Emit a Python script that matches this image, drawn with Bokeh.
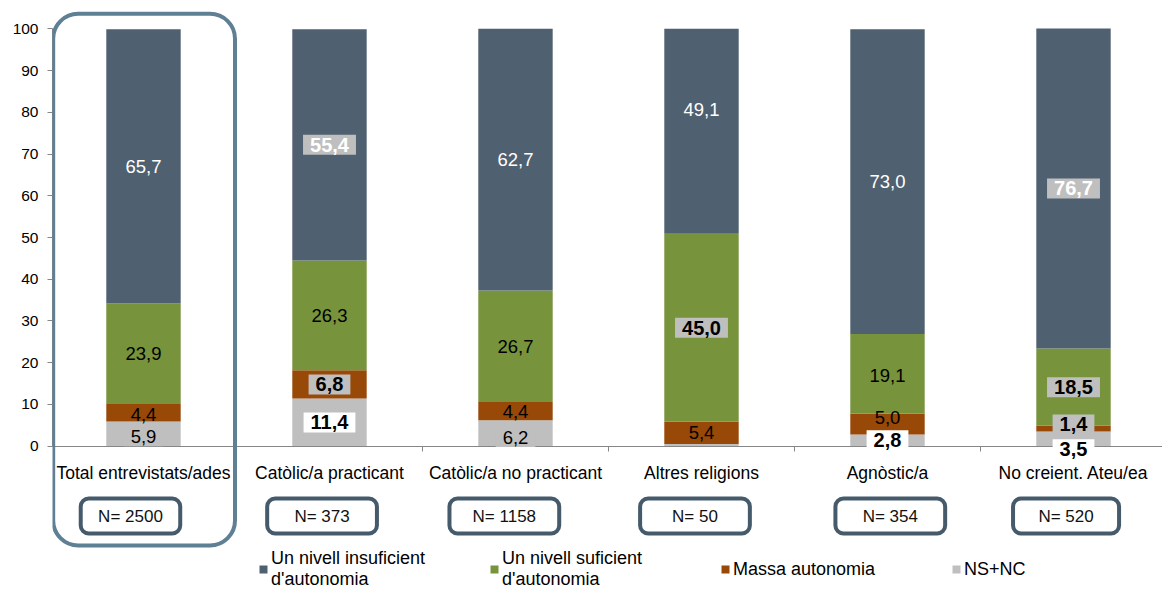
import numpy as np
from bokeh.plotting import figure
from bokeh.models import (ColumnDataSource, Range1d, FixedTicker, BoxAnnotation,
                          Legend, LegendItem)
from bokeh.core.properties import value
from bokeh.embed import file_html
from bokeh.resources import INLINE

# ---------------- data ----------------
categories = ["Total entrevistats/ades", "Catòlic/a practicant", "Catòlic/a no practicant",
              "Altres religions", "Agnòstic/a", "No creient. Ateu/ea"]
ns_nc = [5.9, 11.4, 6.2, 0.5, 2.8, 3.5]
massa = [4.4, 6.8, 4.4, 5.4, 5.0, 1.4]
suficient = [23.9, 26.3, 26.7, 45.0, 19.1, 18.5]
insuficient = [65.7, 55.4, 62.7, 49.1, 73.0, 76.7]
n_sizes = [2500, 373, 1158, 50, 354, 520]
series_names = ["NS+NC", "Massa autonomia",
                "Un nivell suficient\nd'autonomia", "Un nivell insuficient\nd'autonomia"]
y_ticks = [0, 10, 20, 30, 40, 50, 60, 70, 80, 90, 100]

# ---------------- styling / layout ----------------
FONT = "Liberation Sans"
colors = ["#BFBFBF", "#984807", "#77933C", "#4F6070"]
GRAY_BOX = "#BFBFBF"
AXIS_COL = "#868686"

# label style overrides: (category index, series index) -> (text colour, bold, background)
label_style = {
    (0, 0): ("black", False, GRAY_BOX),
    (1, 0): ("black", True, "white"),
    (1, 1): ("black", True, GRAY_BOX),
    (1, 3): ("white", True, GRAY_BOX),
    (2, 0): ("black", False, GRAY_BOX),
    (3, 2): ("black", True, GRAY_BOX),
    (4, 0): ("black", True, "white"),
    (5, 0): ("black", True, "white"),
    (5, 1): ("black", True, GRAY_BOX),
    (5, 2): ("black", True, GRAY_BOX),
    (5, 3): ("white", True, GRAY_BOX),
}
label_nudge = {(0, 0): -0.7, (0, 1): -0.6, (2, 0): -1.0, (3, 3): 5.3,
               (4, 1): 1.5, (5, 0): -2.5, (5, 1): 1.0, (4, 2): -0.5}
nbox_offset = [-0.07, -0.04, -0.06, -0.035, 0.015, -0.04]
nbox_width = [0.535, 0.59, 0.59, 0.59, 0.59, 0.57]

x = [i + 1 for i in range(len(categories))]

p = figure(width=1162, height=591,
           x_range=Range1d(0.5108, 6.4785), y_range=Range1d(-34.82, 106.79),
           output_backend="svg", toolbar_location=None,
           min_border_left=52, min_border_right=0, min_border_top=0, min_border_bottom=0)
p.outline_line_color = None
p.xgrid.visible = False
p.ygrid.visible = False
p.background_fill_color = "white"

source = ColumnDataSource(dict(x=x, ns=ns_nc, massa=massa, suf=suficient, insuf=insuficient))
renderers = p.vbar_stack(["ns", "massa", "suf", "insuf"], x="x", width=0.4,
                         fill_color=colors, line_color=None, source=source)

# ---------------- data labels ----------------
vals = np.array([ns_nc, massa, suficient, insuficient])
bottoms = np.vstack([np.zeros(vals.shape[1]), np.cumsum(vals, axis=0)[:-1]])
groups = {}
for i in range(len(categories)):
    for j in range(4):
        v = vals[j, i]
        if v < 1.0:
            continue
        default = ("white", False, None) if j == 3 else ("black", False, None)
        st = label_style.get((i, j), default)
        yc = bottoms[j, i] + v / 2 + label_nudge.get((i, j), 0.0)
        g = groups.setdefault(st, dict(x=[], y=[], t=[]))
        g["x"].append(x[i])
        g["y"].append(yc)
        g["t"].append(f"{v:.1f}".replace(".", ","))

for (tcol, bold, bg), g in groups.items():
    kw = {}
    if bg is not None:
        kw = dict(background_fill_color=bg, padding=dict(left=7, right=7, top=3, bottom=3))
    p.text(x="x", y="y", text="t", source=ColumnDataSource(g),
           text_font=value(FONT), text_font_size="20px" if bold else "18.5px",
           text_font_style="bold" if bold else "normal", text_color=tcol,
           text_align="center", text_baseline="middle", level="overlay", **kw)

# ---------------- axes ----------------
yax = p.yaxis[0]
yax.ticker = FixedTicker(ticks=y_ticks)
yax.bounds = (0, 100)
yax.axis_line_color = AXIS_COL
yax.major_tick_line_color = AXIS_COL
yax.major_tick_out = 5
yax.major_tick_in = 0
yax.minor_tick_line_color = None
yax.major_label_text_font = FONT
yax.major_label_text_font_size = "15.5px"
yax.major_label_text_color = "black"
yax.major_label_standoff = 9

xax = p.xaxis[0]
xax.fixed_location = 0
xax.ticker = FixedTicker(ticks=x, minor_ticks=[v + 0.5 for v in x[:-1]])
xax.major_label_overrides = {x[i]: c for i, c in enumerate(categories)}
xax.major_tick_line_color = None
xax.major_tick_in = 0
xax.major_tick_out = 0
xax.minor_tick_in = 0
xax.minor_tick_out = 5
xax.minor_tick_line_color = AXIS_COL
xax.axis_line_color = AXIS_COL
xax.major_label_standoff = 12
xax.major_label_text_font = FONT
xax.major_label_text_font_size = "17.5px"
xax.major_label_text_color = "black"

# ---------------- highlight box + N boxes ----------------
p.add_layout(BoxAnnotation(left=0.5145, right=1.492, top=103.6, bottom=-23.8,
                           fill_color=None, fill_alpha=0, line_color="#5F7F95",
                           line_alpha=1.0, line_width=4, border_radius=25))
ncx = []
for i in range(len(categories)):
    c = x[i] + nbox_offset[i]
    ncx.append(c)
    p.add_layout(BoxAnnotation(left=c - nbox_width[i] / 2, right=c + nbox_width[i] / 2,
                               top=-12.54, bottom=-20.93, fill_color="white", fill_alpha=1,
                               line_color="#455A6B", line_alpha=1.0, line_width=4,
                               border_radius=8))
p.text(x="x", y="y", text="t",
       source=ColumnDataSource(dict(x=ncx, y=[-16.75] * len(ncx),
                                    t=[f"N= {n}" for n in n_sizes])),
       text_font=value(FONT), text_font_size="17px", text_color="#111111",
       text_align="center", text_baseline="middle", level="overlay")

# ---------------- legend ----------------
items = [LegendItem(label=series_names[j], renderers=[renderers[j]]) for j in [3, 2, 1, 0]]
legend = Legend(items=items, orientation="horizontal", location=(206, 1),
                padding=0, margin=0, spacing=16, label_width=202,
                glyph_width=10, glyph_height=10, label_standoff=3,
                border_line_color=None, background_fill_alpha=0,
                label_text_font=FONT, label_text_font_size="18px",
                label_text_line_height=1.05, label_text_color="black")
p.add_layout(legend)

open("out.html", "w").write(file_html(p, INLINE))
